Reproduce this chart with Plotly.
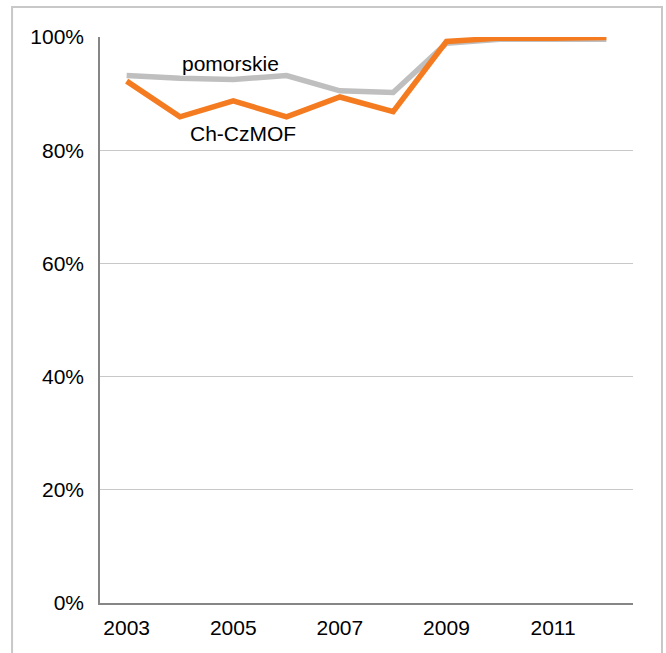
import plotly.graph_objects as go

years = [2003, 2004, 2005, 2006, 2007, 2008, 2009, 2010, 2011, 2012]
pomorskie = [93.2, 92.7, 92.5, 93.2, 90.5, 90.2, 98.9, 99.6, 99.6, 99.6]
ch_czmof = [92.2, 85.9, 88.7, 85.9, 89.4, 86.8, 99.2, 99.8, 99.8, 99.9]
x_ticks = [2003, 2005, 2007, 2009, 2011]
y_ticks = [0, 20, 40, 60, 80, 100]
y_tick_labels = ["0%", "20%", "40%", "60%", "80%", "100%"]

FONT = "Liberation Sans, Arial, sans-serif"

fig = go.Figure()
fig.add_trace(go.Scatter(x=years, y=pomorskie, mode="lines", name="pomorskie",
                         line=dict(color="#BFBFBF", width=5.5)))
fig.add_trace(go.Scatter(x=years, y=ch_czmof, mode="lines", name="Ch-CzMOF",
                         line=dict(color="#F47B20", width=5.5)))

fig.add_annotation(x=2004.95, y=95.3, text="pomorskie", showarrow=False,
                   xanchor="center", yanchor="middle",
                   font=dict(family=FONT, size=21, color="#000000"))
fig.add_annotation(x=2005.18, y=83.0, text="Ch-CzMOF", showarrow=False,
                   xanchor="center", yanchor="middle",
                   font=dict(family=FONT, size=21, color="#000000"))

# outer chart border
fig.add_shape(type="rect", xref="paper", yref="paper",
              x0=-0.165, x1=1.0544, y0=-0.2, y1=1.053,
              line=dict(color="#C8C8C8", width=2), fillcolor="rgba(0,0,0,0)", layer="below")

fig.update_layout(
    width=666, height=653,
    margin=dict(l=100, r=33, t=37, b=50),
    paper_bgcolor="white", plot_bgcolor="white",
    showlegend=False,
    font=dict(family=FONT, size=21, color="#000000"),
)
fig.update_xaxes(range=[2002.5, 2012.5], tickvals=x_ticks, ticktext=[str(v) for v in x_ticks],
                 showgrid=False, showline=True, linecolor="#868686", linewidth=1.5,
                 ticks="", ticklabelstandoff=5, zeroline=False)
fig.update_yaxes(range=[0, 100], tickvals=y_ticks, ticktext=y_tick_labels,
                 showgrid=True, gridcolor="#C8C8C8", gridwidth=1,
                 showline=True, linecolor="#868686", linewidth=1.5,
                 ticks="", ticklabelstandoff=10, zeroline=False)

fig.write_html("out.html", config={"displayModeBar": False},
               post_script="document.body.style.margin='0';document.body.style.overflow='hidden';")
